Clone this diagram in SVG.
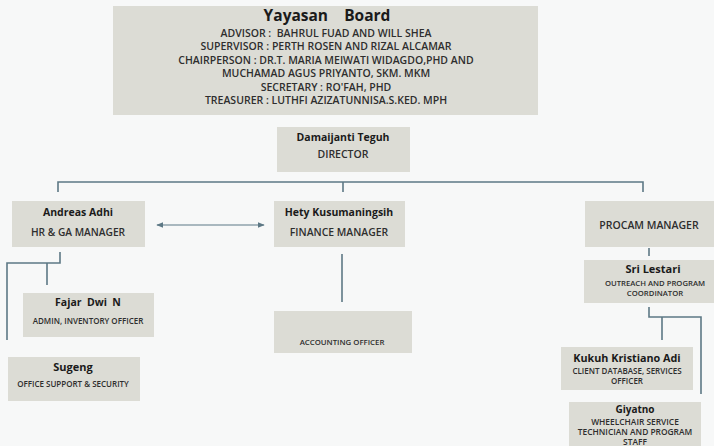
<svg xmlns="http://www.w3.org/2000/svg" width="714" height="446" viewBox="0 0 714 446">
<defs>
<style>
.box{fill:#dcdcd5;}
.t{font-family:"Open Sans","Liberation Sans",sans-serif;text-anchor:middle;fill:#2e2e2e;font-weight:600;white-space:pre;}
.b{font-weight:700;fill:#1a1a1a;}
.ln{fill:none;stroke:#5d7885;stroke-width:1.6;}
</style>
<marker id="ah" viewBox="0 0 10 10" refX="9" refY="5" markerWidth="6" markerHeight="6" orient="auto-start-reverse"><path d="M0,1 L10,5 L0,9 z" fill="#5d7885"/></marker>
</defs>
<rect width="714" height="446" fill="#f7f8f8"/>
<g id="board">
<rect class="box" x="113" y="6" width="425" height="109"/>
<text class="t b" x="327" y="21" font-size="15.5" xml:space="preserve">Yayasan    Board</text>
<text class="t" x="326" y="37" font-size="10.5" xml:space="preserve">ADVISOR :  BAHRUL FUAD AND WILL SHEA</text>
<text class="t" x="326" y="50" font-size="10.5">SUPERVISOR : PERTH ROSEN AND RIZAL ALCAMAR</text>
<text class="t" x="326" y="63.5" font-size="10.5">CHAIRPERSON : DR.T. MARIA MEIWATI WIDAGDO,PHD AND</text>
<text class="t" x="326" y="77" font-size="10.5">MUCHAMAD AGUS PRIYANTO, SKM. MKM</text>
<text class="t" x="326" y="90.5" font-size="10.5">SECRETARY : RO'FAH, PHD</text>
<text class="t" x="326" y="104" font-size="10.5">TREASURER : LUTHFI AZIZATUNNISA.S.KED. MPH</text>
</g>
<g id="director">
<rect class="box" x="277" y="127" width="133" height="45"/>
<text class="t b" x="343" y="141" font-size="10.5">Damaijanti Teguh</text>
<text class="t" x="343" y="158" font-size="10.5">DIRECTOR</text>
</g>
<g id="andreas">
<rect class="box" x="12" y="201" width="133" height="46"/>
<text class="t b" x="78" y="216" font-size="10.5">Andreas Adhi</text>
<text class="t" x="78" y="236" font-size="10.2">HR &amp; GA MANAGER</text>
</g>
<g id="hety">
<rect class="box" x="274" y="201" width="131" height="46"/>
<text class="t b" x="339" y="216" font-size="10.5">Hety Kusumaningsih</text>
<text class="t" x="339" y="236" font-size="10.4">FINANCE MANAGER</text>
</g>
<g id="procam">
<rect class="box" x="585" y="201" width="129" height="46"/>
<text class="t" x="649" y="229" font-size="10.5">PROCAM MANAGER</text>
</g>
<g id="fajar">
<rect class="box" x="23" y="293" width="131" height="44"/>
<text class="t b" x="88" y="306" font-size="10.5" xml:space="preserve">Fajar  Dwi  N</text>
<text class="t" x="88" y="324" font-size="8">ADMIN, INVENTORY OFFICER</text>
</g>
<g id="sugeng">
<rect class="box" x="8" y="357" width="132" height="44"/>
<text class="t b" x="73" y="371" font-size="11">Sugeng</text>
<text class="t" x="73" y="387" font-size="8">OFFICE SUPPORT &amp; SECURITY</text>
</g>
<g id="accounting">
<rect class="box" x="274" y="311" width="138" height="42"/>
<text class="t" x="342" y="345" font-size="7.8">ACCOUNTING OFFICER</text>
</g>
<g id="sri">
<rect class="box" x="584" y="260" width="130" height="43"/>
<text class="t b" x="653" y="273" font-size="11">Sri Lestari</text>
<text class="t" x="655" y="285.5" font-size="7.7">OUTREACH AND PROGRAM</text>
<text class="t" x="655" y="295.5" font-size="7.7">COORDINATOR</text>
</g>
<g id="kukuh">
<rect class="box" x="561" y="347" width="132" height="43"/>
<text class="t b" x="627" y="362" font-size="10.8">Kukuh Kristiano Adi</text>
<text class="t" x="627" y="374" font-size="8">CLIENT DATABASE, SERVICES</text>
<text class="t" x="627" y="384" font-size="8">OFFICER</text>
</g>
<g id="giyatno">
<rect class="box" x="569" y="402" width="132" height="46"/>
<text class="t b" x="635" y="412.5" font-size="10">Giyatno</text>
<text class="t" x="635" y="424.5" font-size="8.4">WHEELCHAIR SERVICE</text>
<text class="t" x="635" y="434.5" font-size="8.4">TECHNICIAN AND PROGRAM</text>
<text class="t" x="635" y="444.5" font-size="8.4">STAFF</text>
</g>
<g id="connectors">
<path class="ln" d="M58,192 V182 H643 V192 M343,182 V192"/>
<path class="ln" d="M157,225 H264" marker-start="url(#ah)" marker-end="url(#ah)" style="stroke-width:1.2"/>
<path class="ln" d="M60,252 V263 H7 V340 M47,263 V285"/>
<path class="ln" d="M342,254 V302"/>
<path class="ln" d="M649,248 V256"/>
<path class="ln" d="M649,307 V317 H701 V394 M662,317 V340"/>
</g>
</svg>
